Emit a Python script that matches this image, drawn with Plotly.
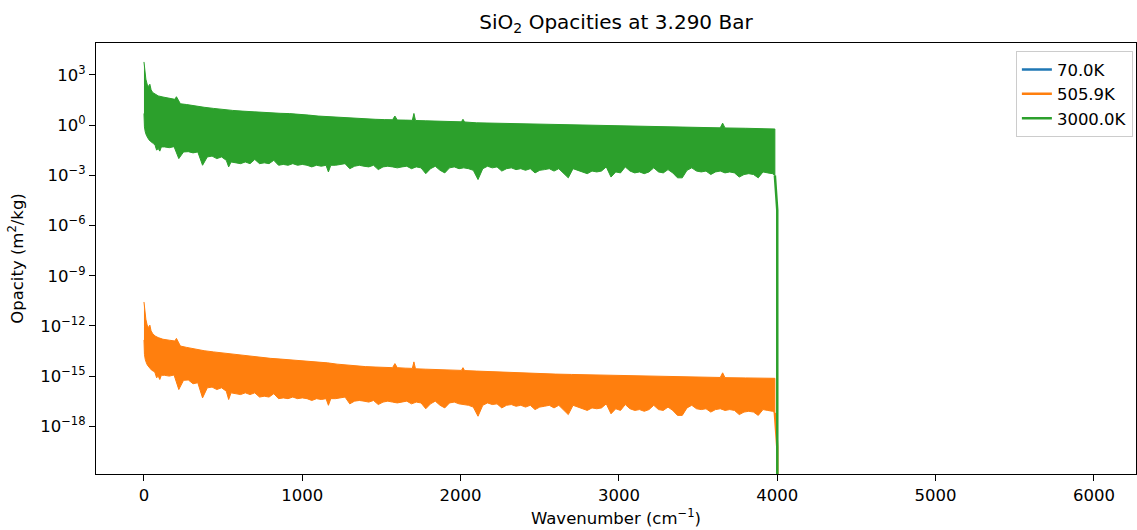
import numpy as np
import plotly.graph_objects as go

# ---------------------------------------------------------------------------
# Opacity spectra of SiO2 at 3.290 bar.  The line forest is far too dense to
# resolve at this size, so each spectrum is described by the upper and lower
# edges of its band (m^2/kg) on wavenumber grids (cm^-1).
# ---------------------------------------------------------------------------

# grid for the upper edge of both bands
upper_wn = [
    0, 5, 12, 20, 30, 37, 45, 55, 70, 90,
    120, 160, 195, 205, 215, 230, 270, 320, 380, 440,
    500, 560, 620, 680, 740, 800, 860, 920, 980, 1040,
    1100, 1160, 1220, 1280, 1340, 1400, 1460, 1520, 1570, 1585,
    1600, 1650, 1695, 1705, 1715, 1780, 1840, 1900, 1960, 2005,
    2015, 2025, 2100, 2200, 2300, 2400, 2500, 2600, 2700, 2800,
    2900, 3000, 3100, 3200, 3300, 3400, 3500, 3640, 3655, 3670,
    3800, 3900, 3985,
]

# grid for the lower edge of both bands
lower_wn = [
    0, 3, 8, 15, 22, 30, 40, 50, 60, 70,
    80, 90, 100, 110, 130, 160, 190, 220, 250, 280,
    310, 340, 370, 400, 430, 460, 490, 520, 535, 550,
    580, 610, 640, 670, 700, 730, 760, 790, 820, 850,
    880, 910, 940, 970, 1000, 1030, 1060, 1090, 1120, 1150,
    1165, 1180, 1210, 1240, 1270,
    1300, 1330, 1360, 1390, 1420, 1450, 1480, 1510, 1540, 1570,
    1600, 1630, 1660, 1690, 1720, 1750, 1780, 1810, 1840, 1870,
    1900, 1930, 1960, 1990, 2020, 2050, 2080, 2110, 2140, 2170,
    2200, 2230, 2260, 2290, 2320, 2350, 2380, 2410, 2440, 2470,
    2500, 2530, 2560, 2590, 2620, 2650, 2680, 2710, 2740, 2770,
    2800, 2830, 2860, 2890, 2920, 2950, 2980, 3010, 3040, 3070,
    3100, 3130, 3160, 3190, 3220, 3250, 3280, 3310, 3340, 3370,
    3400, 3430, 3460, 3490, 3520, 3550, 3580, 3610, 3640, 3670,
    3700, 3730, 3760, 3790, 3820, 3850, 3880, 3910, 3940, 3970,
    3985,
]

# 3000.0K
hot_upper = [
    6.0e3, 2.0e3, 5.6e2, 2.8e2, 2.0e2, 2.8e2, 1.3e2, 89, 71, 56,
    48, 40, 35, 50, 32, 19, 17, 14, 11.7, 10,
    8.5, 7.6, 6.9, 6.3, 5.8, 5.4, 5.1, 4.9, 4.6, 4.0,
    3.5, 3.2, 3.0, 2.75, 2.6, 2.4, 2.24, 2.14, 2.1, 3.5,
    2.04, 2.0, 1.95, 5.0, 1.9, 1.82, 1.74, 1.66, 1.62, 1.58,
    2.24, 1.55, 1.38, 1.32, 1.26, 1.2, 1.15, 1.1, 1.05, 1.0,
    0.95, 0.91, 0.87, 0.83, 0.79, 0.76, 0.72, 0.69, 1.32, 0.68,
    0.65, 0.62, 0.59,
]
hot_lower = [
    5.0, 0.79, 0.4, 0.25, 0.18, 0.14, 0.11, 0.089, 0.079, 0.063,
    0.032, 0.04, 0.028, 0.05, 0.05, 0.045, 0.052, 0.01, 0.025, 0.026,
    0.022, 0.025, 4.0e-3, 0.0126, 0.0141, 0.01, 0.0126, 7.9e-3, 3.2e-3, 6.3e-3,
    5.6e-3, 5.0e-3, 6.3e-3, 5.0e-3, 8.9e-3, 5.0e-3, 5.6e-3, 5.0e-3, 7.9e-3, 4.0e-3,
    4.5e-3, 4.0e-3, 5.0e-3, 4.0e-3, 4.5e-3, 4.0e-3, 3.2e-3, 4.0e-3, 3.5e-3, 4.0e-3,
    1.6e-3, 4.0e-3, 4.0e-3, 4.5e-3, 5.0e-3,
    2.5e-3, 3.5e-3, 4.0e-3, 3.5e-3, 3.2e-3, 4.0e-3, 2.2e-3, 3.2e-3, 3.5e-3, 3.2e-3,
    2.8e-3, 3.2e-3, 3.5e-3, 2.5e-3, 3.2e-3, 2.8e-3, 1.26e-3, 2.5e-3, 3.5e-3, 2.0e-3,
    1.4e-3, 2.8e-3, 3.2e-3, 2.5e-3, 2.8e-3, 2.5e-3, 2.0e-3, 5.6e-4, 2.5e-3, 3.5e-3,
    2.8e-3, 3.2e-3, 1.8e-3, 2.5e-3, 2.8e-3, 2.2e-3, 2.5e-3, 2.0e-3, 2.5e-3, 1.4e-3,
    2.0e-3, 2.2e-3, 2.5e-3, 1.8e-3, 2.5e-3, 1.4e-3, 7.1e-4, 2.5e-3, 2.0e-3, 1.6e-3,
    1.26e-3, 1.8e-3, 1.6e-3, 1.8e-3, 3.2e-3, 7.9e-4, 1.6e-3, 1.4e-3, 3.2e-3, 1.8e-3,
    1.4e-3, 1.6e-3, 1.26e-3, 1.6e-3, 2.8e-3, 1.6e-3, 1.4e-3, 2.2e-3, 1.4e-3, 7.1e-4,
    7.1e-4, 2.0e-3, 2.8e-3, 1.8e-3, 1.6e-3, 1.8e-3, 1.12e-3, 1.6e-3, 1.8e-3, 1.4e-3,
    1.6e-3, 1.4e-3, 7.9e-4, 1.12e-3, 1.26e-3, 1.12e-3, 7.1e-4, 1.6e-3, 1.4e-3, 1.26e-3,
    1.0e-3,
]

# 505.9K
warm_upper = [
    2.7e-11, 8.9e-12, 2.5e-12, 1.12e-12, 7.9e-13, 1.12e-12, 5.0e-13, 3.5e-13, 2.5e-13, 2.0e-13,
    1.6e-13, 1.4e-13, 1.26e-13, 1.8e-13, 1.12e-13, 6.3e-14, 5.2e-14, 4.2e-14, 3.3e-14, 2.8e-14,
    2.4e-14, 2.0e-14, 1.66e-14, 1.45e-14, 1.26e-14, 1.15e-14, 1.05e-14, 9.5e-15, 8.3e-15, 7.4e-15,
    6.8e-15, 6.2e-15, 5.2e-15, 4.5e-15, 4.0e-15, 3.7e-15, 3.5e-15, 3.3e-15, 3.2e-15, 5.6e-15,
    3.2e-15, 3.0e-15, 2.9e-15, 7.1e-15, 2.75e-15, 2.6e-15, 2.5e-15, 2.4e-15, 2.3e-15, 2.2e-15,
    3.2e-15, 2.14e-15, 2.0e-15, 1.82e-15, 1.66e-15, 1.51e-15, 1.41e-15, 1.32e-15, 1.26e-15, 1.2e-15,
    1.15e-15, 1.1e-15, 1.05e-15, 1.0e-15, 9.5e-16, 9.1e-16, 8.7e-16, 8.3e-16, 1.58e-15, 8.1e-16,
    7.8e-16, 7.6e-16, 7.4e-16,
]
warm_lower = [
    1.45e-13, 2.0e-14, 1.0e-14, 6.3e-15, 4.5e-15, 3.5e-15, 2.8e-15, 2.2e-15, 2.0e-15, 1.58e-15,
    7.9e-16, 1.0e-15, 6.3e-16, 1.12e-15, 1.12e-15, 1.0e-15, 1.17e-15, 1.58e-16, 5.6e-16, 5.9e-16,
    3.5e-16, 4.0e-16, 5.0e-17, 2.0e-16, 2.2e-16, 1.58e-16, 2.0e-16, 1.26e-16, 4.0e-17, 1.0e-16,
    8.9e-17, 7.9e-17, 1.0e-16, 7.9e-17, 1.0e-16, 5.6e-17, 6.3e-17, 5.6e-17, 8.9e-17, 4.5e-17,
    5.0e-17, 4.5e-17, 5.6e-17, 4.5e-17, 5.0e-17, 4.5e-17, 3.5e-17, 4.5e-17, 4.0e-17, 4.5e-17,
    1.8e-17, 4.5e-17, 4.5e-17, 5.0e-17, 5.6e-17,
    2.2e-17, 3.2e-17, 3.5e-17, 3.2e-17, 2.8e-17, 3.5e-17, 2.0e-17, 2.8e-17, 3.2e-17, 2.8e-17,
    2.5e-17, 2.8e-17, 3.2e-17, 2.2e-17, 2.8e-17, 2.5e-17, 1.12e-17, 2.2e-17, 3.2e-17, 1.8e-17,
    1.26e-17, 2.5e-17, 2.8e-17, 2.2e-17, 2.0e-17, 1.8e-17, 1.41e-17, 4.0e-18, 1.8e-17, 2.5e-17,
    2.0e-17, 2.2e-17, 1.26e-17, 1.8e-17, 2.0e-17, 1.58e-17, 1.8e-17, 1.41e-17, 1.8e-17, 1.0e-17,
    1.41e-17, 1.58e-17, 1.8e-17, 1.26e-17, 1.8e-17, 1.0e-17, 5.0e-18, 1.8e-17, 1.41e-17, 1.12e-17,
    8.9e-18, 1.26e-17, 1.12e-17, 1.26e-17, 2.2e-17, 5.6e-18, 1.12e-17, 8.9e-18, 2.0e-17, 1.12e-17,
    8.9e-18, 1.0e-17, 7.9e-18, 1.0e-17, 1.8e-17, 1.0e-17, 8.9e-18, 1.41e-17, 8.9e-18, 4.5e-18,
    4.5e-18, 1.26e-17, 1.8e-17, 1.12e-17, 1.0e-17, 1.12e-17, 7.1e-18, 1.0e-17, 1.12e-17, 8.9e-18,
    1.0e-17, 8.9e-18, 5.0e-18, 7.1e-18, 7.9e-18, 7.1e-18, 4.5e-18, 1.0e-17, 8.9e-18, 7.9e-18,
    6.3e-18,
]

# Band edge and beyond: the opacity collapses, then is zero to the grid end
tail_wn = [3985, 4000, 4005, 5970]
hot_tail = [1.0e-3, 8.5e-6, 0.0, 0.0]
warm_tail = [6.3e-18, 6.0e-20, 0.0, 0.0]

# 70.0K: zero everywhere on the grid
cold_wn = [0, 4000, 5970]
cold_opacity = [0.0, 0.0, 0.0]

labels = ["70.0K", "505.9K", "3000.0K"]
colors = ["#1f77b4", "#ff7f0e", "#2ca02c"]

for up, lo in [(hot_upper, hot_lower), (warm_upper, warm_lower)]:
    assert len(up) == len(upper_wn) and len(lo) == len(lower_wn)

FONT = "DejaVu Sans"
FS = 16.5
LW = 2.5


def clip_nonpositive(vals):
    # log axes cannot show zeros; push them far below the visible range
    arr = np.asarray(vals, dtype=float)
    return np.where(arr > 0, arr, 1e-300)


def band_outline(upper, lower):
    xs = list(upper_wn) + list(lower_wn[::-1])
    ys = list(upper) + list(lower[::-1])
    return xs, ys


fig = go.Figure()

fig.add_trace(go.Scatter(
    x=cold_wn, y=clip_nonpositive(cold_opacity), mode="lines",
    line=dict(color=colors[0], width=LW), name=labels[0],
))

for up, lo, tail, color, name in [
    (warm_upper, warm_lower, warm_tail, colors[1], labels[1]),
    (hot_upper, hot_lower, hot_tail, colors[2], labels[2]),
]:
    bx, by = band_outline(up, lo)
    fig.add_trace(go.Scatter(
        x=bx, y=by, mode="lines", fill="toself", fillcolor=color,
        line=dict(color=color, width=1.0), showlegend=False, hoverinfo="skip",
    ))
    fig.add_trace(go.Scatter(
        x=tail_wn, y=clip_nonpositive(tail), mode="lines",
        line=dict(color=color, width=LW), name=name,
    ))

exp_ticks = [3, 0, -3, -6, -9, -12, -15, -18]
ytickvals = [10.0 ** e for e in exp_ticks]
yticktext = ["10<sup>%s</sup>" % str(e).replace("-", "\u2212") for e in exp_ticks]

axis_common = dict(
    showline=True, linecolor="black", linewidth=1.3, mirror=True,
    ticks="outside", ticklen=6, tickwidth=1.3, tickcolor="black",
    showgrid=False, zeroline=False,
    tickfont=dict(family=FONT, size=FS, color="black"),
)

fig.update_layout(
    width=1137, height=530,
    margin=dict(l=96, r=1, t=43, b=56),
    paper_bgcolor="white", plot_bgcolor="white",
    font=dict(family=FONT, size=FS, color="black"),
    title=dict(
        text="SiO<sub>2</sub> Opacities at 3.290 Bar",
        x=0.5, xref="paper", xanchor="center",
        y=1 - 22 / 530, yref="container", yanchor="middle",
        font=dict(family=FONT, size=20, color="black"),
    ),
    xaxis=dict(
        range=[-303, 6266], tickvals=[0, 1000, 2000, 3000, 4000, 5000, 6000],
        title=dict(text="Wavenumber (cm<sup>\u22121</sup>)", standoff=8,
                   font=dict(family=FONT, size=FS, color="black")),
        **axis_common,
    ),
    yaxis=dict(
        type="log", range=[-20.85, 4.91], tickvals=ytickvals, ticktext=yticktext,
        title=dict(text="Opacity (m<sup>2</sup>/kg)", standoff=12,
                   font=dict(family=FONT, size=FS, color="black")),
        **axis_common,
    ),
    legend=dict(
        x=0.997, xanchor="right", y=0.981, yanchor="top",
        bgcolor="rgba(255,255,255,0.8)", bordercolor="#cccccc", borderwidth=1,
        font=dict(family=FONT, size=FS, color="black"),
        entrywidth=112, entrywidthmode="pixels",
    ),
    showlegend=True,
)

fig.write_html("out.html")
